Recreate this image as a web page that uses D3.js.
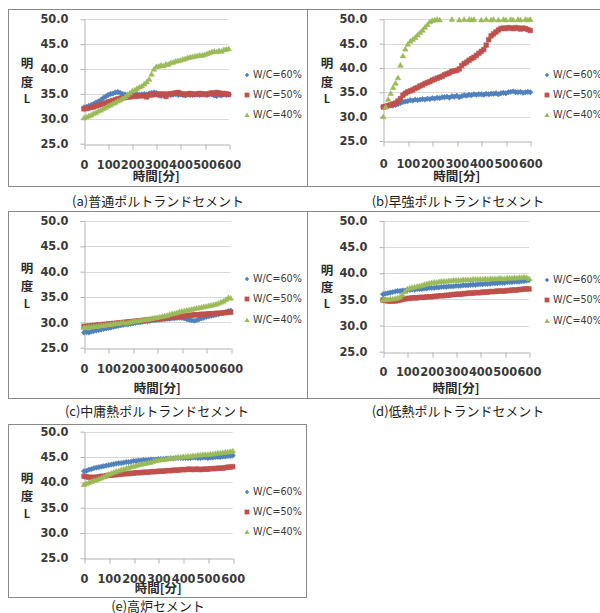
<!DOCTYPE html>
<html>
<head>
<meta charset="utf-8">
<script src="https://cdn.jsdelivr.net/npm/d3@7"></script>
<style>
  html, body { margin: 0; padding: 0; background: #fff; }
  svg { display: block; }
</style>
</head>
<body>
<svg id="chart" width="600" height="613"></svg>
<script>
// Elapsed time after mixing [min]
const minutes = [0,10,20,30,40,50,60,70,80,90,100,110,120,130,140,150,160,170,180,190,200,
  210,220,230,240,250,260,270,280,290,300,310,320,330,340,350,360,370,380,390,400,
  410,420,430,440,450,460,470,480,490,500,510,520,530,540,550,560,570,580,590,600];

const seriesNames = ["W/C=60%", "W/C=50%", "W/C=40%"];
const yTicks = [25, 30, 35, 40, 45, 50];
const xTicks = [0, 100, 200, 300, 400, 500, 600];
const captions = ["(a)普通ポルトランドセメント", "(b)早強ポルトランドセメント",
  "(c)中庸熱ポルトランドセメント", "(d)低熱ポルトランドセメント", "(e)高炉セメント"];
const xTitle = "時間[分]";
const yTitle = ["明", "度", "L"];

// (a) ordinary portland cement: lightness L
const a60 = [32.3,32.4,32.6,32.8,33.0,33.3,33.5,33.8,34.2,34.5,34.8,35.0,35.1,35.3,35.4,35.2,35.0,34.9,34.8,34.9,34.8,
  34.9,35.0,34.8,34.9,35.0,34.9,35.1,35.2,35.3,35.2,34.7,34.6,34.8,34.7,34.9,34.8,34.9,35.0,34.8,34.9,
  34.8,34.7,34.9,34.8,34.8,34.9,35.0,34.8,34.9,34.9,34.8,35.0,34.9,34.7,34.6,34.8,34.7,34.9,34.8,34.9];
const a50 = [32.0,32.1,32.2,32.3,32.4,32.6,32.7,32.9,33.0,33.2,33.4,33.5,33.7,33.8,34.0,34.1,34.2,34.3,34.4,34.4,34.5,
  34.6,34.5,34.7,34.6,34.7,34.4,34.8,34.8,34.9,34.9,35.0,34.9,35.0,34.5,35.0,35.0,35.1,35.2,35.3,35.1,
  35.0,34.9,35.0,35.1,35.0,34.9,35.0,35.1,35.0,35.0,34.9,35.1,35.2,35.0,35.3,35.2,35.0,35.1,35.0,34.9];
const a40 = [30.2,30.4,30.6,30.8,31.1,31.3,31.6,31.8,32.1,32.3,32.6,32.8,33.1,33.3,33.6,33.8,34.1,34.4,34.8,35.2,35.6,
  35.8,36.1,36.4,36.6,37.0,37.4,38.0,39.0,40.0,40.5,40.6,40.8,40.7,41.0,41.0,41.3,41.4,41.6,41.7,41.8,
  42.0,42.1,42.3,42.4,42.5,42.6,42.7,42.8,42.8,42.9,43.1,43.3,43.5,43.6,43.5,43.7,43.6,43.9,44.0,44.1];

// (b) high-early-strength portland cement
const b60 = [32.0,32.1,32.2,32.3,32.3,32.4,32.6,32.8,33.0,33.1,33.2,33.4,33.3,33.5,33.4,33.5,33.6,33.5,33.7,33.6,33.8,
  33.7,33.9,33.8,34.0,34.0,34.1,33.9,34.2,34.1,34.3,34.0,34.2,34.4,34.3,34.5,34.4,34.6,34.5,34.6,34.6,
  34.5,34.7,34.6,34.7,34.7,34.8,34.6,34.8,34.9,34.8,35.0,35.1,35.2,35.0,35.0,35.1,34.9,35.0,35.1,35.0];
const b50 = [32.0,32.1,32.3,32.4,32.6,32.8,33.2,33.7,34.4,34.8,35.1,35.3,35.5,35.8,36.0,36.3,36.5,36.8,37.0,37.2,37.5,
  37.7,37.9,38.1,38.3,38.6,38.8,39.0,39.3,39.4,39.5,39.8,40.5,40.9,41.2,41.6,41.9,42.2,42.6,43.0,43.4,
  43.8,44.7,45.8,46.6,47.0,47.4,47.8,48.1,48.2,48.1,48.3,48.2,48.1,48.3,48.2,48.0,48.2,48.1,47.9,47.7];
const b40 = [30.0,32.0,33.6,34.8,36.0,36.9,38.0,40.6,42.5,43.9,44.9,45.5,45.9,46.3,46.8,47.3,47.8,48.4,48.9,49.5,49.8,
  49.9,50.0,49.9,50.3,50.4,50.2,50.3,50.0,50.3,50.4,49.9,50.3,50.0,50.2,50.0,49.9,50.0,50.3,50.2,49.9,
  50.4,50.0,50.3,49.9,50.0,50.2,49.9,50.3,50.0,49.9,50.2,50.0,49.9,50.3,50.0,49.9,50.2,50.0,49.9,50.0];

// (c) moderate-heat portland cement
const c60 = [28.0,28.1,28.0,28.2,28.3,28.4,28.5,28.6,28.7,28.8,28.9,29.0,29.1,29.2,29.3,29.4,29.5,29.6,29.6,29.7,29.8,
  29.9,30.0,30.0,30.1,30.2,30.2,30.3,30.4,30.4,30.5,30.5,30.6,30.6,30.7,30.7,30.8,30.8,30.9,30.9,30.9,
  30.8,30.6,30.5,30.4,30.3,30.4,30.6,30.8,30.9,31.1,31.2,31.3,31.4,31.5,31.6,31.8,31.9,32.0,32.2,32.3];
const c50 = [29.2,29.2,29.3,29.3,29.4,29.4,29.5,29.5,29.6,29.6,29.7,29.7,29.8,29.8,29.9,29.9,30.0,30.0,30.1,30.1,30.2,
  30.2,30.3,30.3,30.4,30.4,30.5,30.5,30.6,30.6,30.7,30.7,30.8,30.9,30.9,31.0,31.0,31.1,31.1,31.2,31.2,
  31.3,31.3,31.4,31.4,31.5,31.5,31.5,31.6,31.6,31.6,31.7,31.7,31.7,31.8,31.8,31.8,31.9,31.9,32.0,32.0];
const c40 = [29.0,29.0,29.1,29.1,29.2,29.2,29.3,29.4,29.4,29.5,29.6,29.6,29.7,29.8,29.8,29.9,30.0,29.9,30.0,30.1,30.2,
  30.3,30.3,30.4,30.5,30.6,30.6,30.7,30.8,30.9,31.0,31.1,31.2,31.3,31.4,31.6,31.7,31.8,31.9,32.1,32.2,
  32.3,32.4,32.5,32.6,32.7,32.8,32.9,33.0,33.1,33.2,33.3,33.4,33.5,33.6,33.8,34.0,34.2,34.5,34.9,34.8];

// (d) low-heat portland cement
const d60 = [36.0,36.1,36.2,36.3,36.4,36.5,36.6,36.6,36.7,36.7,36.8,36.8,36.9,36.9,37.0,37.0,37.0,37.1,37.1,37.2,37.2,
  37.2,37.3,37.3,37.4,37.4,37.4,37.5,37.5,37.5,37.6,37.6,37.6,37.7,37.7,37.7,37.8,37.8,37.8,37.9,37.9,
  37.9,38.0,38.0,38.0,38.1,38.1,38.1,38.2,38.2,38.2,38.3,38.3,38.3,38.4,38.4,38.4,38.5,38.5,38.6,38.7];
const d50 = [34.9,34.8,34.7,34.7,34.7,34.7,34.8,34.9,35.0,35.1,35.2,35.2,35.3,35.3,35.3,35.4,35.4,35.4,35.5,35.5,35.5,
  35.6,35.6,35.7,35.7,35.7,35.8,35.8,35.9,35.9,36.0,36.0,36.0,36.1,36.1,36.2,36.2,36.2,36.3,36.3,36.3,
  36.4,36.4,36.4,36.5,36.5,36.5,36.6,36.6,36.6,36.6,36.7,36.7,36.8,36.8,36.8,36.9,36.9,37.0,37.0,37.0];
const d40 = [34.9,35.0,35.0,35.1,35.1,35.2,35.3,35.5,35.9,36.5,37.0,37.2,37.3,37.4,37.5,37.6,37.7,37.9,38.0,38.1,38.2,
  38.3,38.3,38.4,38.5,38.5,38.5,38.6,38.6,38.7,38.7,38.7,38.7,38.8,38.8,38.8,38.8,38.9,38.9,38.9,38.9,
  38.9,39.0,38.9,39.0,39.0,39.0,39.0,39.1,39.0,39.0,39.1,39.1,39.1,39.2,39.1,39.2,39.2,39.3,39.2,39.0];

// (e) portland blast-furnace slag cement
const e60 = [42.2,42.3,42.5,42.6,42.8,42.9,43.0,43.1,43.2,43.3,43.4,43.5,43.6,43.7,43.8,43.8,43.9,44.0,44.0,44.1,44.2,
  44.2,44.3,44.3,44.4,44.4,44.4,44.5,44.5,44.5,44.6,44.6,44.6,44.7,44.7,44.7,44.7,44.8,44.8,44.8,44.8,
  44.8,44.8,44.8,44.9,44.9,44.8,44.8,44.9,44.9,44.8,44.9,44.9,45.0,45.0,45.0,45.1,45.1,45.2,45.2,45.3];
const e50 = [41.2,41.1,41.0,41.0,41.0,41.0,41.1,41.2,41.2,41.3,41.4,41.4,41.5,41.5,41.6,41.6,41.7,41.7,41.7,41.8,41.8,
  41.9,41.9,41.9,42.0,42.0,42.0,42.1,42.1,42.1,42.2,42.2,42.2,42.3,42.3,42.3,42.4,42.4,42.4,42.5,42.5,
  42.5,42.6,42.6,42.5,42.6,42.6,42.5,42.6,42.6,42.6,42.7,42.7,42.7,42.8,42.8,42.8,42.9,43.0,43.0,43.1];
const e40 = [39.6,39.8,40.0,40.2,40.4,40.5,40.7,40.9,41.1,41.4,41.6,41.8,42.0,42.2,42.3,42.5,42.6,42.8,42.9,43.1,43.2,
  43.3,43.5,43.6,43.7,43.8,43.9,44.0,44.2,44.3,44.4,44.5,44.5,44.6,44.7,44.8,44.8,44.9,45.0,45.0,45.1,
  45.1,45.2,45.2,45.3,45.3,45.4,45.4,45.5,45.5,45.5,45.6,45.6,45.7,45.8,45.8,45.9,46.0,46.0,46.1,46.2];

const colors = ["#4f81bd", "#c0504d", "#9bbb59"];

// Panel layout: outer frame, plot rectangle and text placement
const panels = [
  { caption: captions[0], data: [a60, a50, a40], box: [8, 9, 307, 186], plot: [84, 19.3, 228.7, 143.7],
    xLabelGap: 20, xTitleY: 176, legendX: 247, legendY: [75, 95, 115], capX: 158, capY: 201,
    yTitleX: 27, yTitleY: [63, 82, 99] },
  { caption: captions[1], data: [b60, b50, b40], box: [307, 9, 640, 186], plot: [383.3, 19.3, 530.3, 141],
    xLabelGap: 22, xTitleY: 176, legendX: 547, legendY: [75, 95, 115], capX: 458, capY: 201,
    yTitleX: 327, yTitleY: [63, 82, 99] },
  { caption: captions[2], data: [c60, c50, c40], box: [8, 211, 307, 398], plot: [84, 221, 230.7, 347.7],
    xLabelGap: 20, xTitleY: 388, legendX: 247, legendY: [279, 299, 320], capX: 157, capY: 411,
    yTitleX: 27, yTitleY: [268, 286, 304] },
  { caption: captions[3], data: [d60, d50, d40], box: [307, 211, 640, 398], plot: [383, 221, 529, 351.7],
    xLabelGap: 19, xTitleY: 388, legendX: 547, legendY: [280, 300, 321], capX: 458, capY: 411,
    yTitleX: 327, yTitleY: [270, 287, 304] },
  { caption: captions[4], data: [e60, e50, e40], box: [8, 424, 306, 597], plot: [84, 431.7, 232.7, 558.3],
    xLabelGap: 20, xTitleY: 588, legendX: 247, legendY: [492, 512, 532], capX: 158, capY: 606,
    yTitleX: 27, yTitleY: [478, 496, 514] }
];

// Excel-style marker shapes: diamond, square, triangle
const markerPath = [
  r => `M0,${-r}L${r},0L0,${r}L${-r},0Z`,
  r => `M${-r},${-r}H${r}V${r}H${-r}Z`,
  r => `M0,${-r * 1.05}L${r * 1.1},${r * 0.85}L${-r * 1.1},${r * 0.85}Z`
];
const markerSize = [2.7, 2.3, 2.5];
const legendMarkerSize = [2.2, 2.4, 2.4];

const tickFont = "'DejaVu Sans', sans-serif";
const cjkFont = "'Noto Sans CJK JP', 'Noto Sans', sans-serif";

const svg = d3.select("#chart");

panels.forEach(p => {
  const g = svg.append("g");
  const [bx0, by0, bx1, by1] = p.box;
  const [px0, py0, px1, py1] = p.plot;

  // chart frame
  g.append("rect")
    .attr("x", bx0 + 0.5).attr("y", by0 + 0.5)
    .attr("width", bx1 - bx0).attr("height", by1 - by0)
    .attr("fill", "none").attr("stroke", "#8a8a8a").attr("stroke-width", 1);

  const x = d3.scaleLinear().domain([0, 600]).range([px0, px1]);
  const y = d3.scaleLinear().domain([25, 50]).range([py1, py0]);

  // horizontal gridlines
  g.append("g").selectAll("line").data(yTicks.slice(1)).join("line")
    .attr("x1", px0).attr("x2", px1)
    .attr("y1", d => Math.round(y(d)) + 0.5).attr("y2", d => Math.round(y(d)) + 0.5)
    .attr("stroke", "#d9d9d9").attr("stroke-width", 1);

  // y axis
  const yAxis = g.append("g")
    .attr("transform", `translate(${Math.round(px0) + 0.5},0)`)
    .call(d3.axisLeft(y).tickValues(yTicks).tickFormat(d => d.toFixed(1))
      .tickSize(4).tickSizeOuter(0).tickPadding(12));

  // x axis on the 25.0 line
  const xAxis = g.append("g")
    .attr("transform", `translate(0,${Math.round(py1) + 0.5})`)
    .call(d3.axisBottom(x).tickValues(xTicks).tickFormat(d3.format("d"))
      .tickSize(5).tickSizeOuter(0).tickPadding(p.xLabelGap - 9));

  [yAxis, xAxis].forEach(ax => {
    ax.select(".domain").attr("stroke", "#b3b3b3");
    ax.selectAll(".tick line").attr("stroke", "#b3b3b3");
    ax.selectAll(".tick text")
      .attr("fill", "#3a3a3a")
      .style("font-family", tickFont)
      .style("font-weight", "bold")
      .style("font-size", "11.4px");
  });
  xAxis.selectAll(".tick line").attr("transform", d => `translate(${Math.round(x(d)) + 0.5 - x(d)},0)`);

  // data markers, later series drawn on top
  p.data.forEach((vals, si) => {
    const pts = minutes.map((t, i) => ({ t, v: vals[i] })).filter(d => d.v >= 25 && d.v <= 50);
    g.append("g").selectAll("path").data(pts).join("path")
      .attr("transform", d => `translate(${x(d.t)},${y(d.v)})`)
      .attr("d", markerPath[si](markerSize[si]))
      .attr("fill", colors[si])
      .attr("stroke", colors[si])
      .attr("stroke-width", 0.6);
  });

  // legend
  seriesNames.forEach((name, si) => {
    const ly = p.legendY[si];
    g.append("path")
      .attr("transform", `translate(${p.legendX},${ly})`)
      .attr("d", markerPath[si](legendMarkerSize[si]))
      .attr("fill", colors[si]);
    g.append("text")
      .attr("x", p.legendX + 6).attr("y", ly).attr("dy", "0.36em")
      .attr("fill", "#3a3a3a")
      .style("font-family", tickFont)
      .style("font-size", "9.6px")
      .text(name);
  });

  // y axis title, stacked vertically
  yTitle.forEach((ch, k) => {
    g.append("text")
      .attr("x", p.yTitleX).attr("y", p.yTitleY[k]).attr("dy", "0.36em")
      .attr("text-anchor", "middle")
      .attr("fill", "#2a2a2a")
      .style("font-family", cjkFont)
      .style("font-weight", "bold")
      .style("font-size", ch === "L" ? "11px" : "12.5px")
      .text(ch);
  });

  // x axis title
  g.append("text")
    .attr("x", (px0 + px1) / 2).attr("y", p.xTitleY).attr("dy", "0.36em")
    .attr("text-anchor", "middle")
    .attr("fill", "#2a2a2a")
    .style("font-family", cjkFont)
    .style("font-weight", "bold")
    .style("font-size", "12.5px")
    .text(xTitle);

  // caption under the frame
  g.append("text")
    .attr("x", p.capX).attr("y", p.capY).attr("dy", "0.36em")
    .attr("text-anchor", "middle")
    .attr("fill", "#1e1e1e")
    .style("font-family", cjkFont)
    .style("font-size", "13px")
    .text(p.caption);
});
</script>
</body>
</html>
